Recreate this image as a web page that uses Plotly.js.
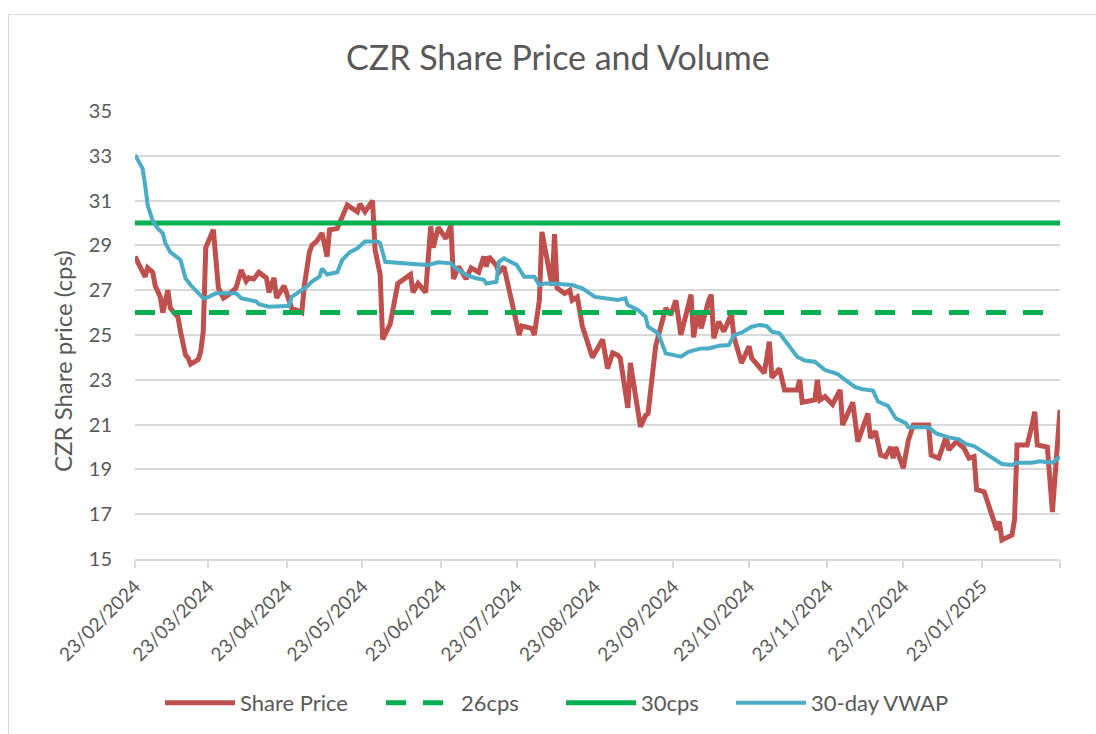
<!DOCTYPE html>
<html>
<head>
<meta charset="utf-8">
<script src="https://cdn.plot.ly/plotly-3.0.1.min.js"></script>
<style>
  html, body { margin: 0; padding: 0; background: #ffffff; }
  #frame { position: absolute; left: 8px; top: 14px; width: 1100px; height: 740px; border: 1px solid #d9d9d9; box-sizing: border-box; }
  #chart { position: absolute; left: 0; top: 0; width: 1096px; height: 734px; }
</style>
</head>
<body>
<div id="frame"></div>
<div id="chart"></div>
<script>
// ---------------- DATA ----------------
const priceDates = [
  '2024-02-23','2024-02-27','2024-02-28','2024-03-01','2024-03-02','2024-03-04','2024-03-05','2024-03-07','2024-03-08','2024-03-11',
  '2024-03-12','2024-03-14','2024-03-15','2024-03-16','2024-03-19','2024-03-20','2024-03-21','2024-03-22','2024-03-25','2024-03-27',
  '2024-03-29','2024-03-31','2024-04-03','2024-04-05','2024-04-07','2024-04-08','2024-04-10','2024-04-12','2024-04-15','2024-04-16',
  '2024-04-18','2024-04-19','2024-04-22','2024-04-24','2024-04-25','2024-04-29','2024-04-30','2024-05-02','2024-05-03','2024-05-05',
  '2024-05-07','2024-05-09','2024-05-10','2024-05-13','2024-05-15','2024-05-17','2024-05-21','2024-05-22','2024-05-24','2024-05-26',
  '2024-05-27','2024-05-28','2024-05-30','2024-05-31','2024-06-03','2024-06-06','2024-06-11','2024-06-12','2024-06-14','2024-06-17',
  '2024-06-19','2024-06-20','2024-06-22','2024-06-25','2024-06-27','2024-06-28','2024-06-30','2024-07-03','2024-07-05','2024-07-08',
  '2024-07-10','2024-07-11','2024-07-12','2024-07-15','2024-07-16','2024-07-18','2024-07-20','2024-07-22','2024-07-24','2024-07-25',
  '2024-07-29','2024-07-30','2024-08-01','2024-08-02','2024-08-04','2024-08-06','2024-08-07','2024-08-08','2024-08-11','2024-08-13',
  '2024-08-14','2024-08-16','2024-08-18','2024-08-20','2024-08-22','2024-08-24','2024-08-26','2024-08-28','2024-08-30','2024-09-01',
  '2024-09-02','2024-09-05','2024-09-06','2024-09-10','2024-09-12','2024-09-13','2024-09-16','2024-09-20','2024-09-22','2024-09-24',
  '2024-09-26','2024-09-30','2024-10-01','2024-10-03','2024-10-04','2024-10-07','2024-10-08','2024-10-09','2024-10-11','2024-10-13',
  '2024-10-16','2024-10-17','2024-10-20','2024-10-23','2024-10-24','2024-10-29','2024-10-31','2024-11-01','2024-11-04','2024-11-06',
  '2024-11-11','2024-11-12','2024-11-13','2024-11-18','2024-11-19','2024-11-20','2024-11-22','2024-11-25','2024-11-28','2024-11-29',
  '2024-12-03','2024-12-05','2024-12-09','2024-12-10','2024-12-12','2024-12-14','2024-12-16','2024-12-18','2024-12-19','2024-12-20',
  '2024-12-23','2024-12-25','2024-12-27','2025-01-02','2025-01-03','2025-01-06','2025-01-09','2025-01-10','2025-01-13','2025-01-16',
  '2025-01-18','2025-01-20','2025-01-21','2025-01-24','2025-01-29','2025-01-30','2025-01-31','2025-02-04','2025-02-05','2025-02-06',
  '2025-02-10','2025-02-12','2025-02-13','2025-02-14','2025-02-18','2025-02-20','2025-02-23'
];
const sharePrice = [
  28.5,27.6,28.0,27.8,27.2,26.7,26.0,27.0,26.2,25.8,
  25.15,24.1,23.97,23.7,23.9,24.25,25.15,28.9,29.7,27.1,
  26.65,26.8,27.1,27.9,27.4,27.55,27.5,27.8,27.55,26.9,
  27.55,26.65,27.2,26.5,26.2,26.0,27.2,28.7,29.0,29.2,
  29.55,28.5,29.7,29.75,30.3,30.8,30.5,30.85,30.5,30.9,
  31.0,28.8,27.7,24.8,25.5,27.3,27.7,26.9,27.3,26.9,
  29.85,28.9,29.8,29.3,29.9,27.5,28.05,27.5,28.0,27.8,
  28.5,28.05,28.5,28.1,27.8,28.05,27.0,26.1,25.0,25.4,
  25.3,25.0,26.55,29.6,28.4,27.2,29.5,27.1,26.85,27.0,
  26.55,26.7,25.4,24.7,24.0,24.4,24.8,23.5,24.2,24.1,
  23.97,21.75,23.75,20.9,21.4,21.5,24.5,26.2,25.9,26.55,
  25.0,26.8,24.9,26.1,25.3,26.55,26.8,24.85,25.6,25.15,
  25.95,24.9,23.75,24.5,23.97,23.3,24.7,23.1,23.5,22.55,
  22.55,23.0,22.0,22.1,23.0,22.1,22.25,21.9,22.55,20.98,
  22.0,20.24,21.5,20.4,20.7,19.64,19.57,20.0,19.5,20.0,
  19.05,20.3,20.98,20.98,19.64,19.5,20.46,19.87,20.24,19.95,
  19.5,19.57,18.1,18.0,16.3,16.67,15.85,16.07,16.74,20.09,
  20.09,21.0,21.58,20.09,20.0,17.1,21.65
];

const vwapDates = [
  '2024-02-23','2024-02-26','2024-02-27','2024-02-28','2024-03-01','2024-03-03','2024-03-05','2024-03-06','2024-03-08','2024-03-12',
  '2024-03-14','2024-03-16','2024-03-21','2024-03-22','2024-03-26','2024-04-03','2024-04-05','2024-04-11','2024-04-12','2024-04-16',
  '2024-04-23','2024-04-24','2024-04-25','2024-05-01','2024-05-03','2024-05-06','2024-05-07','2024-05-09','2024-05-13','2024-05-15',
  '2024-05-18','2024-05-21','2024-05-24','2024-05-29','2024-05-30','2024-06-01','2024-06-12','2024-06-18','2024-06-22','2024-06-27',
  '2024-06-29','2024-07-03','2024-07-07','2024-07-10','2024-07-11','2024-07-15','2024-07-16','2024-07-18','2024-07-23','2024-07-25',
  '2024-07-26','2024-07-30','2024-08-01','2024-08-03','2024-08-06','2024-08-14','2024-08-18','2024-08-23','2024-09-01','2024-09-04',
  '2024-09-05','2024-09-09','2024-09-12','2024-09-13','2024-09-17','2024-09-20','2024-09-26','2024-09-29','2024-10-04','2024-10-07',
  '2024-10-11','2024-10-15','2024-10-17','2024-10-20','2024-10-24','2024-10-27','2024-10-30','2024-11-01','2024-11-04','2024-11-07',
  '2024-11-11','2024-11-14','2024-11-18','2024-11-22','2024-11-27','2024-11-30','2024-12-04','2024-12-07','2024-12-11','2024-12-13',
  '2024-12-17','2024-12-20','2024-12-24','2024-12-25','2025-01-02','2025-01-05','2025-01-10','2025-01-14','2025-01-17','2025-01-20',
  '2025-01-23','2025-01-27','2025-01-31','2025-02-04','2025-02-06','2025-02-12','2025-02-15','2025-02-20','2025-02-23'
];
const vwap30 = [
  33.04,32.44,31.7,30.8,30.1,29.76,29.54,29.1,28.7,28.35,
  27.53,27.23,26.64,26.64,26.86,26.86,26.64,26.49,26.38,26.26,
  26.3,26.3,26.7,27.16,27.38,27.6,27.97,27.7,27.8,28.35,
  28.7,28.87,29.17,29.17,29.1,28.27,28.17,28.13,28.25,28.2,
  27.97,27.68,27.53,27.46,27.3,27.38,28.27,28.42,28.13,27.76,
  27.6,27.6,27.23,27.3,27.3,27.23,27.08,26.7,26.56,26.64,
  26.34,26.12,25.82,25.37,25.08,24.18,24.03,24.25,24.4,24.4,
  24.52,24.55,25.0,25.1,25.37,25.45,25.4,25.15,25.08,24.63,
  24.03,23.86,23.81,23.44,23.26,23.0,22.67,22.58,22.52,22.03,
  21.83,21.28,21.06,20.88,20.88,20.61,20.43,20.34,20.13,20.04,
  19.83,19.57,19.24,19.2,19.3,19.3,19.36,19.3,19.57
];

const levelDates = ['2024-02-23', '2025-02-23'];
const level26 = [26, 26];
const level30 = [30, 30];

const tickDates = ['2024-02-23','2024-03-23','2024-04-23','2024-05-23','2024-06-23','2024-07-23',
  '2024-08-23','2024-09-23','2024-10-23','2024-11-23','2024-12-23','2025-01-23','2025-02-23'];
const tickLabels = ['23/02/2024','23/03/2024','23/04/2024','23/05/2024','23/06/2024','23/07/2024',
  '23/08/2024','23/09/2024','23/10/2024','23/11/2024','23/12/2024','23/01/2025',''];

// ---------------- CHART ----------------
const FONT = 'Lato, "Open Sans", sans-serif';
const GREY = '#595959';

const traces = [
  { x: priceDates, y: sharePrice, name: 'Share Price', type: 'scatter', mode: 'lines',
    line: { color: '#C0504D', width: 5 }, legendwidth: 136 },
  { x: levelDates, y: level26, name: '26cps', type: 'scatter', mode: 'lines',
    line: { color: '#00B050', width: 5, dash: '20px,17px' }, legendwidth: 95 },
  { x: levelDates, y: level30, name: '30cps', type: 'scatter', mode: 'lines',
    line: { color: '#00B050', width: 5 }, legendwidth: 85 },
  { x: vwapDates, y: vwap30, name: '30-day VWAP', type: 'scatter', mode: 'lines',
    line: { color: '#4BACC6', width: 4 }, legendwidth: 135 }
];

const layout = {
  width: 1096, height: 734,
  margin: { l: 135, r: 36, t: 111, b: 175 },
  paper_bgcolor: 'rgba(0,0,0,0)',
  plot_bgcolor: 'rgba(0,0,0,0)',
  font: { family: FONT, color: GREY, size: 20 },
  title: { text: 'CZR Share Price and Volume', font: { family: FONT, size: 34, color: GREY },
           xref: 'container', x: 0.509, xanchor: 'center', yref: 'container', y: 0.921, yanchor: 'middle' },
  showlegend: true,
  legend: { orientation: 'h', xref: 'container', x: 160 / 1096, xanchor: 'left',
            yref: 'container', y: 1 - 703/734, yanchor: 'middle',
            font: { family: FONT, size: 22, color: GREY }, itemwidth: 70, traceorder: 'normal' },
  xaxis: {
    type: 'date', range: ['2024-02-23', '2025-02-23'],
    tickmode: 'array', tickvals: tickDates, ticktext: tickLabels, tickangle: -45,
    tickfont: { family: FONT, size: 19, color: GREY },
    showgrid: false, zeroline: false,
    showline: true, linecolor: '#d9d9d9', linewidth: 2,
    ticks: 'outside', ticklen: 7, tickwidth: 2, tickcolor: '#d9d9d9'
  },
  yaxis: {
    range: [15, 35], dtick: 2, tick0: 15,
    tickfont: { family: FONT, size: 20, color: GREY },
    showgrid: true, gridcolor: '#d9d9d9', gridwidth: 2,
    zeroline: false, showline: false, ticks: '', ticklabelstandoff: 22
  },
  annotations: [
    { text: 'CZR Share price (cps)', xref: 'paper', yref: 'paper',
      x: (62 - 135) / 925, y: (559 - 361) / 448, xanchor: 'center', yanchor: 'middle',
      textangle: -90, showarrow: false, font: { family: FONT, size: 24, color: GREY } }
  ]
};

Plotly.newPlot('chart', traces, layout, { staticPlot: true, displayModeBar: false });
</script>
</body>
</html>
